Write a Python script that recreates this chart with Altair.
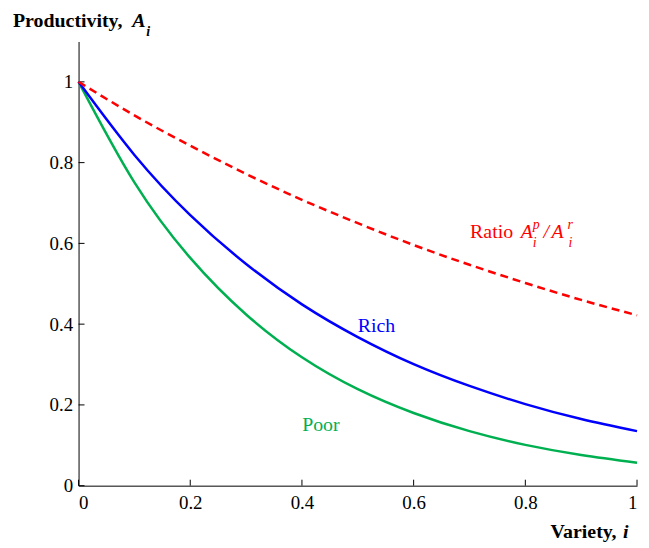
import altair as alt
import pandas as pd

# Values
variety = [0.0, 0.1, 0.2, 0.3, 0.4, 0.5, 0.6, 0.7, 0.8, 0.9, 1.0]
rich = [1.0, 0.819, 0.670, 0.549, 0.449, 0.368, 0.301, 0.247, 0.202, 0.165, 0.135]
poor = [1.0, 0.751, 0.564, 0.424, 0.318, 0.239, 0.180, 0.135, 0.101, 0.076, 0.057]
ratio = [1.0, 0.917, 0.842, 0.772, 0.708, 0.650, 0.596, 0.547, 0.502, 0.460, 0.422]
x_ticks = [0, 0.2, 0.4, 0.6, 0.8, 1.0]
y_ticks = [0, 0.2, 0.4, 0.6, 0.8, 1.0]

W, H = 562, 447
FONT = "Liberation Serif"
RED, BLUE, GREEN = "#FF0000", "#0000FF", "#00B050"

rows = []
for name, vals in (("Rich", rich), ("Poor", poor), ("Ratio", ratio)):
    for xv, yv in zip(variety, vals):
        rows.append({"x": xv, "y": yv, "series": name})
df = pd.DataFrame(rows)

xs = alt.Scale(domain=[0, 1], nice=False, zero=False)
ys = alt.Scale(domain=[0, 1.1], nice=False, zero=False)

xaxis = alt.Axis(values=x_ticks, format="~g", title=None, ticks=False, tickSize=0,
                 labelPadding=8, grid=False, domainColor="black", domainWidth=1)
yaxis = alt.Axis(values=y_ticks, format="~g", title=None, ticks=False, tickSize=0,
                 labelPadding=6, grid=False, domainColor="black", domainWidth=1)

base = alt.Chart(df)


def line(name, color, dash=None):
    kw = dict(color=color, strokeWidth=2.5, interpolate="natural")
    if dash:
        kw["strokeDash"] = dash
    return base.transform_filter(alt.datum.series == name).mark_line(**kw).encode(
        x=alt.X("x:Q", scale=xs, axis=xaxis),
        y=alt.Y("y:Q", scale=ys, axis=yaxis),
    )


lines = line("Poor", GREEN) + line("Rich", BLUE) + line("Ratio", RED, [8, 5])

xt = alt.Chart(pd.DataFrame({"t": x_ticks})).mark_rule(color="black", strokeWidth=1).encode(
    x=alt.X("t:Q", scale=xs, axis=xaxis), y=alt.value(H), y2=alt.value(H - 6))
yt = alt.Chart(pd.DataFrame({"t": y_ticks})).mark_rule(color="black", strokeWidth=1).encode(
    y=alt.Y("t:Q", scale=ys, axis=yaxis), x=alt.value(0), x2=alt.value(6))


def txt(text, x, y, color="black", size=20, style="normal", weight="normal", align="left"):
    return alt.Chart(pd.DataFrame({"a": [0]})).mark_text(
        text=text, font=FONT, fontSize=size, fontStyle=style, fontWeight=weight,
        color=color, align=align, baseline="alphabetic"
    ).encode(x=alt.value(x), y=alt.value(y))


labels = (
    txt("Rich", 281, 292, BLUE)
    + txt("Poor", 225, 392, GREEN)
    + txt("Ratio", 394, 198, RED)
    + txt("A", 445, 198, RED, style="italic")
    + txt("p", 457, 189, RED, size=14, style="italic")
    + txt("i", 457, 207, RED, size=14, style="italic")
    + txt("/", 468, 198, RED, style="italic")
    + txt("A", 476, 198, RED, style="italic")
    + txt("r", 492, 189, RED, size=14, style="italic")
    + txt("i", 493, 207, RED, size=14, style="italic")
    + txt("Productivity,", -66, -15, weight="bold")
    + txt("A", 54, -15, style="italic", weight="bold")
    + txt("i", 68, -6, size=14, style="italic", weight="bold")
    + txt("Variety,", 475, 500, weight="bold")
    + txt("i", 548, 500, style="italic", weight="bold")
)

chart = (xt + yt + lines + labels).properties(
    width=W, height=H,
    autosize=alt.AutoSizeParams(type="none"),
    padding={"left": 71, "top": 32, "right": 4, "bottom": 56},
    background="white",
).configure_view(stroke=None).configure_axis(
    labelFont=FONT, labelFontSize=19, labelColor="black"
)

chart.save("out.html", embed_options={"renderer": "svg", "actions": False})
